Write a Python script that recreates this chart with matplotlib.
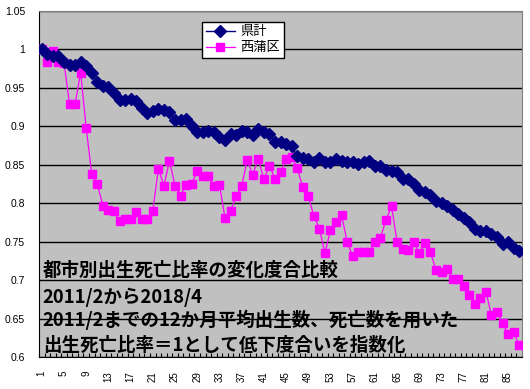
import matplotlib
matplotlib.use("Agg")
import matplotlib.pyplot as plt
import numpy as np

# 月の通し番号 (2011/2 = 1 ... 2018/4 = 87)
tsuki = list(range(1, 88))

kenkei = [1.000, 0.994, 0.992, 0.991, 0.984, 0.980, 0.980, 0.984, 0.978, 0.969,
          0.958, 0.953, 0.951, 0.944, 0.934, 0.934, 0.935, 0.933, 0.924, 0.917,
          0.920, 0.923, 0.921, 0.918, 0.908, 0.908, 0.910, 0.900, 0.893, 0.893,
          0.894, 0.892, 0.886, 0.882, 0.890, 0.889, 0.894, 0.893, 0.889, 0.896,
          0.893, 0.890, 0.880, 0.879, 0.877, 0.874, 0.861, 0.859, 0.857, 0.853,
          0.859, 0.853, 0.854, 0.857, 0.855, 0.853, 0.853, 0.851, 0.853, 0.855,
          0.848, 0.849, 0.843, 0.842, 0.840, 0.832, 0.831, 0.825, 0.817, 0.814,
          0.811, 0.803, 0.800, 0.796, 0.791, 0.786, 0.781, 0.775, 0.767, 0.764,
          0.764, 0.760, 0.756, 0.747, 0.749, 0.742, 0.738]

nishikan = [1.000, 0.984, 0.998, 0.984, 0.983, 0.929, 0.929, 0.970, 0.898, 0.838,
            0.825, 0.797, 0.791, 0.790, 0.777, 0.779, 0.779, 0.789, 0.779, 0.779,
            0.790, 0.845, 0.823, 0.855, 0.823, 0.810, 0.824, 0.825, 0.842, 0.835,
            0.835, 0.822, 0.824, 0.781, 0.790, 0.809, 0.822, 0.856, 0.837, 0.858,
            0.831, 0.849, 0.832, 0.840, 0.857, 0.860, 0.846, 0.821, 0.809, 0.784,
            0.767, 0.735, 0.765, 0.775, 0.785, 0.750, 0.731, 0.736, 0.736, 0.737,
            0.749, 0.755, 0.778, 0.796, 0.750, 0.741, 0.739, 0.749, 0.735, 0.748,
            0.737, 0.713, 0.711, 0.715, 0.702, 0.702, 0.692, 0.681, 0.669, 0.677,
            0.685, 0.654, 0.658, 0.644, 0.630, 0.632, 0.615]

y_ticks = [0.6, 0.65, 0.7, 0.75, 0.8, 0.85, 0.9, 0.95, 1.0, 1.05]
y_labels = ["0.6", "0.65", "0.7", "0.75", "0.8", "0.85", "0.9", "0.95", "1", "1.05"]
x_ticks = list(range(1, 88, 4))

setsumei = ["都市別出生死亡比率の変化度合比較",
            "2011/2から2018/4",
            "2011/2までの12か月平均出生数、死亡数を用いた",
            "出生死亡比率＝1として低下度合いを指数化"]

plt.rcParams['font.family'] = ['Liberation Sans', 'Noto Sans CJK JP', 'DejaVu Sans']

fig = plt.figure(figsize=(5.3, 3.89), dpi=100)
ax = fig.add_axes([39 / 530, 32 / 389, 483 / 530, 346 / 389])
ax.set_facecolor('#C0C0C0')

ax.plot(tsuki, kenkei, color='#000080', marker='D', markersize=6, linewidth=1,
        label='県計', zorder=4)
ax.plot(tsuki, nishikan, color='#FF00FF', marker='s', markersize=5.5, linewidth=0.9,
        label='西蒲区', zorder=3)

ax.set_xlim(0.5, 87.5)
ax.set_ylim(0.6, 1.05)
ax.set_yticks(y_ticks)
ax.set_yticklabels(y_labels)
ax.set_xticks(x_ticks)
ax.set_xticklabels([str(t) for t in x_ticks], rotation=90)
ax.set_xticks(np.arange(0.5, 88, 1), minor=True)

ax.grid(axis='y', color='black', linewidth=1)
ax.set_axisbelow(True)
ax.tick_params(axis='y', length=0, pad=10, labelsize=7.5)
ax.tick_params(axis='x', which='major', length=0, pad=10, labelsize=7)
ax.tick_params(axis='x', which='minor', direction='in', length=3, width=0.8, color='black')

for s in ['top', 'right']:
    ax.spines[s].set_color('#808080')
for s in ['left', 'bottom']:
    ax.spines[s].set_color('black')

leg = ax.legend(loc='upper left', bbox_to_anchor=(163 / 483, 1 - 11 / 346), fancybox=False,
                framealpha=1, edgecolor='black', fontsize=9.5, handlelength=2.2,
                borderpad=0.3, labelspacing=0.3, handletextpad=0.4, borderaxespad=0)
leg.get_frame().set_linewidth(1)

ys = [0.251, 0.173, 0.107, 0.035]
for txt, yy in zip(setsumei, ys):
    ax.text(0.008, yy, txt, transform=ax.transAxes, fontsize=13.3, fontweight='bold',
            family=['Noto Sans CJK JP', 'DejaVu Sans'], va='center', ha='left', zorder=5)

fig.savefig('out.png', dpi=100)
